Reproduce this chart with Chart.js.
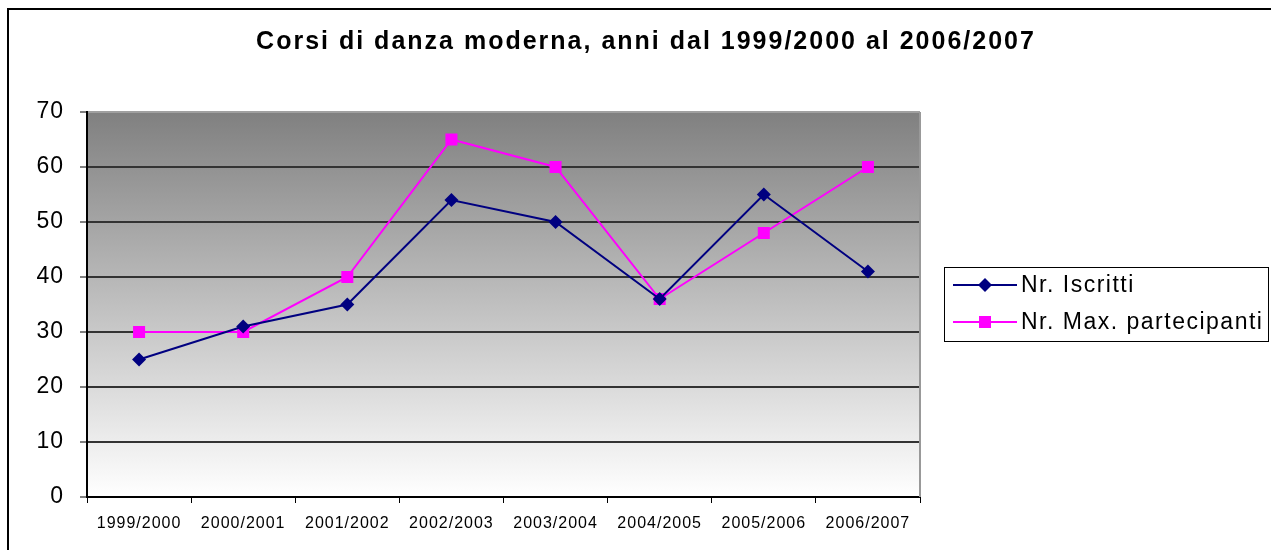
<!DOCTYPE html>
<html>
<head>
<meta charset="utf-8">
<script src="https://cdn.jsdelivr.net/npm/chart.js@4.4.0/dist/chart.umd.min.js"></script>
<style>
  html, body { margin: 0; padding: 0; background: #fff; }
  canvas { display: block; }
</style>
</head>
<body>
<canvas id="chart" width="1271" height="550"></canvas>
<script>
// Data
const titleText = 'Corsi di danza moderna, anni dal 1999/2000 al 2006/2007';
const years = ['1999/2000', '2000/2001', '2001/2002', '2002/2003', '2003/2004', '2004/2005', '2005/2006', '2006/2007'];
const iscritti = [25, 31, 35, 54, 50, 36, 55, 41];
const maxPartecipanti = [30, 30, 40, 65, 60, 36, 48, 60];
const seriesNames = ['Nr. Iscritti', 'Nr. Max. partecipanti'];

const FONT = '"Liberation Sans", Arial, sans-serif';

// the original text is a bit wide, so space the letters out a little
const spacing = {
    id: 'spacing',
    beforeUpdate(chart) { chart.ctx.letterSpacing = '1px'; },
    beforeDraw(chart) { chart.ctx.letterSpacing = '1px'; }
};

// gray-to-white plot background, outer frame, title, right border
const backdrop = {
    id: 'backdrop',
    beforeDraw(chart) {
        const { ctx, chartArea: a } = chart;
        ctx.save();
        let g = ctx.createLinearGradient(0, a.top, 0, a.bottom);
        g.addColorStop(0, '#808080');
        g.addColorStop(1, '#ffffff');
        ctx.fillStyle = g;
        ctx.fillRect(a.left, a.top, a.right - a.left, a.bottom - a.top);

        ctx.strokeStyle = '#000';
        ctx.lineWidth = 2;
        ctx.strokeRect(8, 9, chart.width + 20, chart.height + 20);

        ctx.fillStyle = '#000';
        ctx.font = 'bold 25px ' + FONT;
        ctx.letterSpacing = '2px';
        ctx.textAlign = 'center';
        ctx.textBaseline = 'middle';
        ctx.fillText(titleText, 646, 42);
        ctx.restore();
    },
    afterDraw(chart) {
        const { ctx, chartArea: a } = chart;
        ctx.save();
        ctx.strokeStyle = '#999';
        ctx.lineWidth = 2;
        ctx.beginPath();
        ctx.moveTo(a.right, a.top);
        ctx.lineTo(a.right, a.bottom);
        ctx.stroke();
        ctx.restore();
    }
};

// boxed legend on the right, like the original
const boxLegend = {
    id: 'boxLegend',
    afterDraw(chart) {
        const { ctx, chartArea: a } = chart;
        const x0 = a.right + 24, y0 = 267, w = 324, h = 74;
        ctx.save();
        ctx.fillStyle = '#fff';
        ctx.fillRect(x0, y0, w, h);
        ctx.strokeStyle = '#000';
        ctx.lineWidth = 1;
        ctx.strokeRect(x0 + 0.5, y0 + 0.5, w, h);
        chart.data.datasets.forEach((ds, i) => {
            const y = y0 + 18 + i * 37;
            ctx.strokeStyle = ds.borderColor;
            ctx.lineWidth = 2;
            ctx.beginPath();
            ctx.moveTo(x0 + 9, y);
            ctx.lineTo(x0 + 73, y);
            ctx.stroke();
            ctx.fillStyle = ds.backgroundColor;
            Chart.helpers.drawPoint(ctx, {
                pointStyle: ds.pointStyle, radius: ds.pointRadius, borderWidth: 0, rotation: 0
            }, x0 + 41, y);
            ctx.fillStyle = '#000';
            ctx.font = '23px ' + FONT;
            ctx.letterSpacing = '1.5px';
            ctx.textAlign = 'left';
            ctx.textBaseline = 'middle';
            ctx.fillText(ds.label, x0 + 77, y + 1);
        });
        ctx.restore();
    }
};

new Chart(document.getElementById('chart'), {
    type: 'line',
    data: {
        labels: years,
        datasets: [{
            label: seriesNames[0],
            data: iscritti,
            borderColor: '#000080',
            backgroundColor: '#000080',
            borderWidth: 2,
            pointStyle: 'rectRot',
            pointRadius: 7,
            pointBorderWidth: 0,
            tension: 0
        }, {
            label: seriesNames[1],
            data: maxPartecipanti,
            borderColor: '#ff00ff',
            backgroundColor: '#ff00ff',
            borderWidth: 2,
            pointStyle: 'rect',
            pointRadius: 8.5,
            pointBorderWidth: 0,
            tension: 0
        }]
    },
    options: {
        responsive: false,
        animation: false,
        layout: { padding: { left: 37, right: 351, top: 112, bottom: 18 } },
        plugins: {
            legend: { display: false },
            title: { display: false },
            tooltip: { enabled: false }
        },
        scales: {
            x: {
                offset: true,
                grid: {
                    offset: true,
                    drawOnChartArea: false,
                    drawTicks: true,
                    tickLength: 6,
                    tickColor: '#000',
                    tickWidth: 1
                },
                border: { color: '#000', width: 2 },
                ticks: {
                    color: '#000',
                    font: { family: FONT, size: 16 },
                    padding: 11,
                    maxRotation: 0,
                    autoSkip: false
                },
                afterFit: s => { s.height = 35; }
            },
            y: {
                min: 0,
                max: 70,
                ticks: {
                    stepSize: 10,
                    color: '#000',
                    font: { family: FONT, size: 23 },
                    padding: 16
                },
                grid: {
                    color: c => (c.tick && c.tick.value === 70) ? '#a0a0a0' : '#333',
                    lineWidth: 2,
                    tickLength: 7,
                    tickColor: '#000',
                    tickWidth: 1
                },
                border: { color: '#000', width: 2 },
                afterFit: s => { s.width = 50; }
            }
        }
    },
    plugins: [spacing, backdrop, boxLegend]
});
</script>
</body>
</html>
